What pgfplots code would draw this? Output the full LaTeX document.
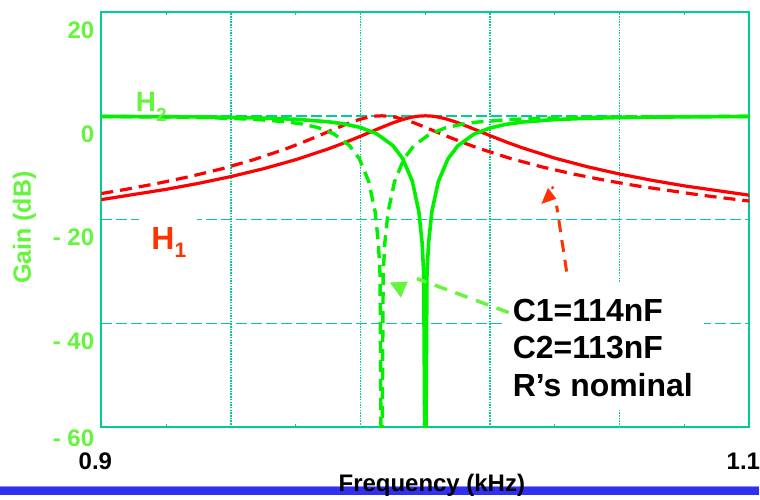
\documentclass[border=0pt]{standalone}
\usepackage{pgfplots}
\usepackage{pgfplotstable}
\usepackage{fontspec}
\setmainfont{Liberation Sans}
\pgfplotsset{compat=1.18}

\definecolor{gridteal}{RGB}{0,204,153}
\definecolor{curvered}{RGB}{255,0,0}
\definecolor{curvegreen}{RGB}{0,240,0}
\definecolor{labelgreen}{RGB}{100,245,60}
\definecolor{annored}{RGB}{255,51,0}
\definecolor{barblue}{RGB}{48,48,240}
\definecolor{barlight}{RGB}{140,140,250}

\newcommand\sz[2]{\fontsize{#1bp}{#2bp}\selectfont}

% H1 (band-pass), nominal components
\pgfplotstableread{
f      g
0.900 -16.14
0.920 -14.16
0.930 -13.01
0.940 -11.70
0.950 -10.20
0.960 -8.45
0.970 -6.38
0.975 -5.20
0.980 -3.93
0.985 -2.61
0.990 -1.35
0.993 -0.71
0.996 -0.24
0.998 -0.06
1.000  0.00
1.002 -0.06
1.004 -0.24
1.007 -0.70
1.010 -1.32
1.015 -2.55
1.020 -3.82
1.025 -5.05
1.030 -6.18
1.040 -8.16
1.050 -9.81
1.060 -11.22
1.070 -12.43
1.080 -13.50
1.100 -15.29
}\hOneNom

% H2 (notch), nominal components
\pgfplotstableread{
f      g
0.900  -0.11
0.920  -0.17
0.930  -0.22
0.940  -0.30
0.950  -0.44
0.960  -0.67
0.970  -1.14
0.975  -1.56
0.980  -2.25
0.985  -3.46
0.990  -5.74
0.993  -8.22
0.996  -12.62
0.998  -18.47
0.999  -24.45
0.9995 -30.46
1.000  -80.00
1.0005 -30.46
1.001  -24.46
1.002  -18.49
1.004  -12.66
1.007  -8.27
1.010  -5.80
1.015  -3.53
1.020  -2.33
1.025  -1.63
1.030  -1.20
1.040  -0.72
1.050  -0.48
1.060  -0.34
1.070  -0.26
1.080  -0.20
1.100  -0.13
}\hTwoNom

% H1 with C1=114nF, C2=113nF
\pgfplotstableread{
f       g
0.9000 -14.97
0.9076 -14.16
0.9174 -13.01
0.9273 -11.70
0.9372 -10.20
0.9470 -8.45
0.9569 -6.38
0.9618 -5.20
0.9668 -3.93
0.9717 -2.61
0.9766 -1.35
0.9796 -0.71
0.9825 -0.24
0.9845 -0.06
0.9865  0.00
0.9885 -0.06
0.9905 -0.24
0.9934 -0.70
0.9964 -1.32
1.0013 -2.55
1.0062 -3.82
1.0112 -5.05
1.0161 -6.18
1.0260 -8.16
1.0358 -9.81
1.0457 -11.22
1.0556 -12.43
1.0654 -13.50
1.0852 -15.29
1.1000 -16.42
}\hOneMod

% H2 with C1=114nF, C2=113nF
\pgfplotstableread{
f        g
0.9000   -0.14
0.9076   -0.17
0.9174   -0.22
0.9273   -0.30
0.9372   -0.44
0.9470   -0.67
0.9569   -1.14
0.9618   -1.56
0.9668   -2.25
0.9717   -3.46
0.9766   -5.74
0.9796   -8.22
0.9825   -12.62
0.9845   -18.47
0.9855   -24.45
0.98601  -30.46
0.9865   -80.00
0.98699  -30.46
0.9875   -24.46
0.9885   -18.49
0.9905   -12.66
0.9934   -8.27
0.9964   -5.80
1.0013   -3.53
1.0062   -2.33
1.0112   -1.63
1.0161   -1.20
1.0260   -0.72
1.0358   -0.48
1.0457   -0.34
1.0556   -0.26
1.0654   -0.20
1.0852   -0.13
1.1000   -0.10
}\hTwoMod

\begin{document}
\begin{tikzpicture}
% page frame, in pixel-like units (origin top left, y downwards)
\begin{scope}[shift={(-101bp,428bp)}, x=1bp, y=-1bp]
  \path[use as bounding box] (0,0) rectangle (760,500);
\end{scope}

\begin{axis}[
  at={(0,0)}, anchor=south west,
  scale only axis, width=649bp, height=416bp,
  xmin=0.9, xmax=1.1, ymin=-60, ymax=20,
  axis line style={gridteal, line width=2bp},
  xtick={0.9,1.1},
  xticklabels={0.9,1.1},
  minor xtick={0.92,0.96,1.0,1.04,1.08},
  ytick={-40,-20,0,20},
  yticklabels={- 40,- 20,0,20},
  extra y ticks={-60},
  extra y tick labels={- 60},
  extra y tick style={yticklabel style={yshift=7bp}},
  major tick length=0pt, minor tick length=3bp,
  tick align=inside,
  tick style={gridteal, line width=1bp},
  xticklabel style={font=\sz{24}{28}\bfseries, text=black, anchor=center,
    inner sep=0pt, yshift=-34bp, xshift=-6bp},
  yticklabel style={font=\sz{24}{28}\bfseries, text=labelgreen, anchor=east,
    inner sep=0pt, xshift=-7bp, yshift=-18bp},
  every axis plot/.append style={line join=round, line cap=round},
]
% grid: dotted verticals every 0.04 kHz, dashed horizontals every 20 dB
\pgfplotsinvokeforeach{0.94,0.98,1.02,1.06}{
  \draw[draw=gridteal, line width=1.4bp, dash pattern=on 1.5bp off 1.2bp]
    (axis cs:#1,-60) -- (axis cs:#1,20);
}
\pgfplotsinvokeforeach{-40,-20,0}{
  \draw[draw=gridteal, line width=1.6bp, dash pattern=on 11bp off 4bp]
    (axis cs:0.9,#1) -- (axis cs:1.1,#1);
}
\addplot[curvered, line width=3.2bp, dash pattern=on 12bp off 7bp, line cap=butt] table[x=f,y=g] {\hOneMod};
\addplot[curvered, line width=3.2bp] table[x=f,y=g] {\hOneNom};
\addplot[curvegreen, line width=3.4bp, dash pattern=on 12bp off 7bp, line cap=butt] table[x=f,y=g] {\hTwoMod};
\addplot[curvegreen, line width=3.6bp] table[x=f,y=g] {\hTwoNom};
\end{axis}

\begin{scope}[shift={(-101bp,428bp)}, x=1bp, y=-1bp]
  % curve labels
  \fill[white] (139,212) rectangle (197,258);
  \node[anchor=base west, inner sep=0pt, text=annored, font=\sz{32}{32}\bfseries]
    at (151,250) {H\raisebox{-8bp}{\sz{21}{21}\bfseries 1}};
  \node[anchor=base west, inner sep=0pt, text=labelgreen, font=\sz{28}{28}\bfseries]
    at (135.5,112) {H\raisebox{-10bp}{\sz{19}{19}\bfseries 2}};

  % component note
  \fill[white] (505,283) rectangle (705,410);
  \node[anchor=base west, inner sep=0pt, font=\sz{32}{32}\bfseries] at (513,322) {C1=114nF};
  \node[anchor=base west, inner sep=0pt, font=\sz{32}{32}\bfseries] at (513,359.5) {C2=113nF};
  \node[anchor=base west, inner sep=0pt, font=\sz{32}{32}\bfseries] at (513,397) {R’s nominal};

  % pointers
  \draw[labelgreen, line width=3.5bp, dash pattern=on 13bp off 9bp] (509,313) -- (417,279);
  \fill[labelgreen] (390,283) -- (408,282) -- (401,298) -- cycle;
  \draw[annored, line width=3bp, dash pattern=on 12bp off 8bp] (567,272) -- (557,206);
  \fill[annored] (541.7,204.3) -- (548.3,188.3) -- (556.7,199) -- cycle;
  \fill[annored] (553,188) circle (1.8);

  % axis titles and footer bar
  \node[rotate=90, inner sep=0pt, text=labelgreen, font=\sz{25}{25}\bfseries] at (24,228) {Gain (dB)};
  \fill[barblue] (0,487) rectangle (760,495.5);
  \draw[barlight, line width=1bp] (0,487) -- (760,487);
  \node[inner sep=0pt, font=\sz{24}{24}\bfseries] at (432,486) {Frequency (kHz)};
\end{scope}
\end{tikzpicture}
\end{document}
